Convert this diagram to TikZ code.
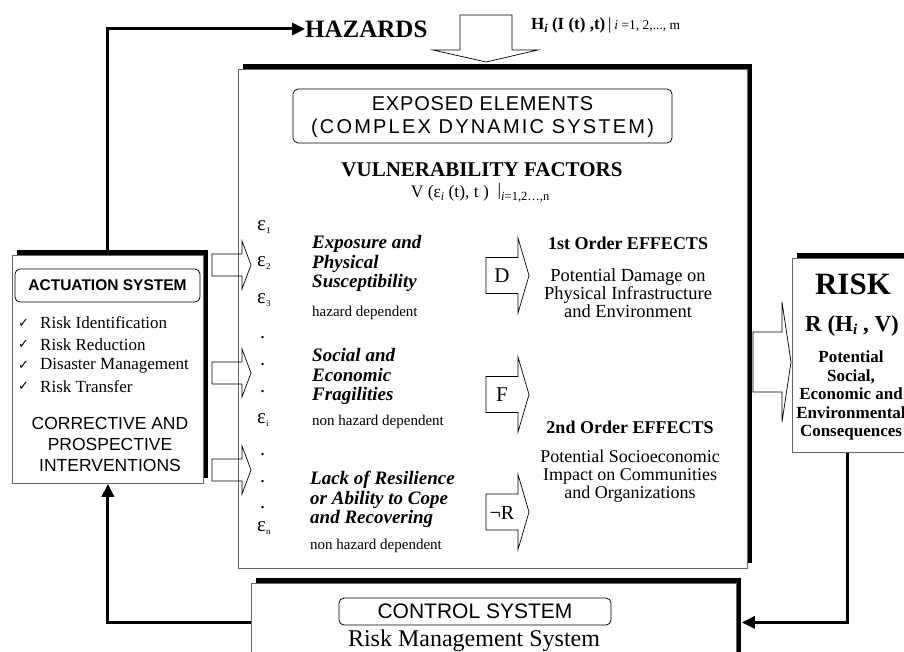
\documentclass[tikz,border=0pt]{standalone}
\usepackage{fontspec}
\setmainfont{Liberation Serif}
\newfontfamily\arial{Liberation Sans}
\newfontfamily\arialspa[LetterSpace=4]{Liberation Sans}
\newfontfamily\arialspb[LetterSpace=11]{Liberation Sans}
\newfontfamily\dejavu{DejaVu Sans}
\usetikzlibrary{arrows.meta,shadows}
\newcommand\fsz[2]{\fontsize{#1}{#2}\selectfont}
\newcommand\dsub[2]{\raisebox{-3pt}{\fsz{#1}{#1}#2}}
\newcommand\epsl[1]{{\fsz{21}{21}ε}\raisebox{-3pt}{\fsz{9}{9}#1}}
\newcommand\harr[6]{\draw[hollow] (#1,#4-#5) -- (#2,#4-#5) -- (#2,#4-#6) -- (#3,#4) -- (#2,#4+#6) -- (#2,#4+#5) -- (#1,#4+#5) -- cycle;}
\begin{document}
\begin{tikzpicture}[x=1pt,y=-1pt,
  shbox/.style={draw=black!60, line width=0.8pt, fill=white, inner sep=0pt, anchor=north west,
    general shadow={fill=black, shadow xshift=5pt, shadow yshift=5pt}},
  lbl/.style={draw=black, line width=0.8pt, rounded corners=5pt, inner sep=0pt},
  hollow/.style={draw=black, line width=0.7pt},
  conn/.style={line width=3pt, -{Triangle[length=13pt,width=12pt]}},
  txt/.style={inner sep=0pt},
]
\useasboundingbox (0,0) rectangle (904,652);
\fill[white] (0,0) rectangle (904,652);

% boxes
\node[shbox, minimum width=509pt, minimum height=499pt] (main) at (238,69) {};
\node[shbox, minimum width=191pt, minimum height=228pt] (act) at (12,255) {};
\node[shbox, minimum width=130pt, minimum height=194pt] (risk) at (792,258) {};
\node[shbox, minimum width=485pt, minimum height=78pt] (ctrl) at (251,583) {};

% connectors
\draw[conn] (act.north) |- (305,29) coordinate (hazin);
\draw[conn, shorten >=5pt] (risk.south west) ++(55,0) |- (ctrl.east);
\draw[conn] (ctrl.west) -| (act.south);

% hazards
\node[txt, anchor=west, font=\bfseries\fsz{25}{25}] (haz) at (hazin) {HAZARDS};
\node[txt, anchor=west, font=\fsz{17}{17}] (hfun) at (531,25)
  {\textbf{H\dsub{12}{\textit{i}} (I (t) ,t)}\,|\,{\fsz{13.5}{13.5}\textit{i} =1, 2,..., m}};
\draw[hollow] (460,15) -- (512,15) -- (512,50) -- (538,50) -- (486,62) -- (433,50) -- (460,50) -- cycle;

% exposed elements
\node[lbl, minimum width=379pt, minimum height=54pt] (expo) at (482.5,116) {};
\node[txt, font=\arialspa\fsz{20}{20}] (expo1) at (482.5,104) {EXPOSED ELEMENTS};
\node[txt, font=\arialspb\fsz{20}{20}] (expo2) at (482.5,128) {(COMPLEX DYNAMIC SYSTEM)};
\node[txt, font=\bfseries\fsz{21}{21}] (vuln) at (482,170) {VULNERABILITY FACTORS};
\node[txt, font=\fsz{17.5}{17.5}] (vfun) at (480,193)
  {V (ε\dsub{12}{\textit{i}} (t), t )\ \ \raisebox{2pt}{|}\dsub{12.5}{\textit{i}=1,2…,n}};

% epsilon column
\node[txt, anchor=west] (e1) at (257,227) {\epsl{1}};
\node[txt, anchor=west] (e2) at (257,263) {\epsl{2}};
\node[txt, anchor=west] (e3) at (257,300) {\epsl{3}};
\node[txt, anchor=west] (ei) at (257,420) {\epsl{i}};
\node[txt, anchor=west] (en) at (257,528) {\epsl{n}};
\foreach \yy [count=\k] in {338,365,392,455,482,508}
  \node[txt, anchor=west, font=\fsz{20}{20}] (dot\k) at (260,\yy) {.};

% factor groups
\node[txt, anchor=north west, align=left, font=\bfseries\itshape\fsz{19}{19.5}] (g1) at (312,235.3)
  {Exposure and\\Physical\\Susceptibility};
\node[txt, anchor=west, font=\fsz{15}{15}] (g1d) at (312,313) {hazard dependent};
\node[txt, anchor=north west, align=left, font=\bfseries\itshape\fsz{19}{19.5}] (g2) at (312,348.3)
  {Social and\\Economic\\Fragilities};
\node[txt, anchor=west, font=\fsz{15}{15}] (g2d) at (312,422) {non hazard dependent};
\node[txt, anchor=north west, align=left, font=\bfseries\itshape\fsz{19}{19.5}] (g3) at (310,471.3)
  {Lack of Resilience\\or Ability to Cope\\and Recovering};
\node[txt, anchor=west, font=\fsz{15}{15}] (g3d) at (310,546) {non hazard dependent};

% left arrows
\harr{212}{242}{251}{265}{11}{24}
\harr{212}{242}{251}{373}{11}{24}
\harr{212}{242}{251}{470}{11}{24}

% D F R arrows
\harr{486}{518}{529}{275.5}{18}{37.5}
\harr{486}{518}{529}{394.5}{18}{37.5}
\harr{486}{518}{529}{512}{18}{37.5}
\node[txt, font=\fsz{21}{21}] (dD) at (502,276) {D};
\node[txt, font=\fsz{21}{21}] (dF) at (502,395) {F};
\node[txt, font=\fsz{20}{20}] (dR) at (502,513) {¬R};

% effects
\node[txt, font=\bfseries\fsz{18}{18}] (ef1) at (628,243) {1st Order EFFECTS};
\node[txt, anchor=north, align=center, font=\fsz{18.5}{18}] (ef1t) at (628,268.5)
  {Potential Damage on\\Physical Infrastructure\\and Environment};
\node[txt, font=\bfseries\fsz{18}{18}] (ef2) at (630,427) {2nd Order EFFECTS};
\node[txt, anchor=north, align=center, font=\fsz{18}{18}] (ef2t) at (630,449.5)
  {Potential Socioeconomic\\Impact on Communities\\and Organizations};

% big right arrow
\harr{753}{782}{791}{362}{30}{60}

% risk box
\node[txt, font=\bfseries\fsz{31}{31}] (rk) at (853,284) {RISK};
\node[txt, font=\bfseries\fsz{23}{23}] (rf) at (852,326) {R (H\dsub{15}{\textit{i}} , V)};
\node[txt, anchor=north, align=center, font=\bfseries\fsz{17}{18.5}] (rt) at (851,351)
  {Potential\\Social,\\Economic and\\Environmental\\Consequences};

% actuation
\node[lbl, minimum width=185pt, minimum height=33pt, font=\arial\bfseries\fsz{15.5}{15.5}] (actl) at (107.5,285.5) {ACTUATION SYSTEM};
\foreach \t [count=\k] in {Risk Identification,Risk Reduction,Disaster Management,Risk Transfer}{
  \node[txt, anchor=west, font=\dejavu\fsz{13}{13}] (ck\k) at (18,{323+(\k-1)*21.3}) {✓};
  \node[txt, anchor=west, font=\fsz{17}{17}] (ct\k) at (40,{323+(\k-1)*21.3}) {\t};
}
\node[txt, anchor=north, align=center, font=\arial\fsz{17.5}{21}] (corr) at (110,417)
  {CORRECTIVE AND\\PROSPECTIVE\\INTERVENTIONS};

% control
\node[lbl, minimum width=272pt, minimum height=27pt, font=\arial\fsz{21}{21}] (ctrll) at (475,611.5) {CONTROL SYSTEM};
\node[txt, font=\fsz{24}{24}] (rms) at (474,641) {Risk Management System};
\end{tikzpicture}
\end{document}
